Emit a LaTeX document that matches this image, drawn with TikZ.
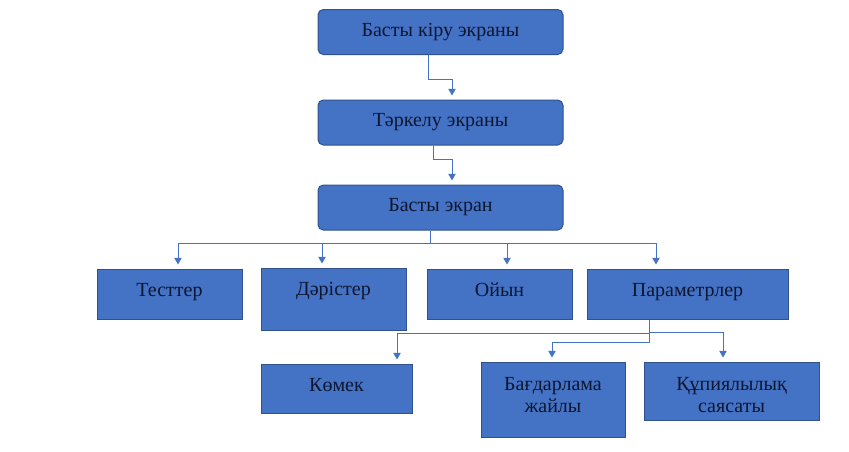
\documentclass[tikz,border=0pt]{standalone}
\usepackage{fontspec}
\setmainfont{Liberation Serif}
\usetikzlibrary{arrows.meta}
\definecolor{boxfill}{HTML}{4472C4}
\definecolor{boxline}{HTML}{2F528F}
\definecolor{linkblue}{HTML}{4472C4}
\definecolor{ink}{HTML}{0E1630}
\tikzset{
  screen/.style={draw=boxline, line width=0.75pt, fill=boxfill, text=ink,
    font=\fontsize{15}{18}\selectfont, rounded corners=4pt,
    minimum width=183.75pt, minimum height=33.75pt, inner sep=0pt},
  item/.style={draw=boxline, line width=0.75pt, fill=boxfill, text=ink,
    font=\fontsize{15}{16.5}\selectfont, inner sep=0pt, align=center},
  oneline/.style={item, text height=10pt, text depth=6pt},
  link/.style={draw=linkblue, line width=0.75pt,
    -{Triangle[width=5.5pt,length=5pt]}, shorten >=3pt},
}
\begin{document}
\begin{tikzpicture}[x=0.75pt, y=-0.75pt]
  \useasboundingbox (0,0) rectangle (849,451);

  \node[screen] (login) at (440.5,32) {Басты кіру экраны};
  \node[screen] (signup) at (440.5,122.5) {Тәркелу экраны};
  \node[screen] (home) at (440.5,207.5) {Басты экран};

  \node[oneline, minimum width=108.75pt, minimum height=37.5pt] (tests) at (169.5,294) {Тесттер};
  \node[oneline, minimum width=108.75pt, minimum height=46.5pt, text depth=15pt] (lectures) at (333.5,299) {Дәрістер};
  \node[oneline, minimum width=108.75pt, minimum height=37.5pt] (game) at (499.5,294) {Ойын};
  \node[oneline, minimum width=150.75pt, minimum height=37.5pt] (settings) at (687.5,294) {Параметрлер};

  \node[oneline, minimum width=113.25pt, minimum height=36.75pt] (help) at (336.5,388.5) {Көмек};
  \node[item, minimum width=108pt, minimum height=56.25pt, text height=26.5pt, text depth=7.75pt] (about) at (553,399.5) {Бағдарлама\\жайлы};
  \node[item, minimum width=131.25pt, minimum height=43.5pt, text height=31.5pt, text depth=0pt] (privacy) at (731.5,391) {Құпиялылық\\саясаты};

  \draw[link] ([xshift=-9.375pt]login.south) -- ++(0,24) -| ([xshift=8.625pt]signup.north);
  \draw[link] ([xshift=-5.625pt]signup.south) -- ++(0,14) -| ([xshift=8.625pt]home.north);

  \draw[link] ([xshift=-7.875pt]home.south) -- ++(0,13) -| ([xshift=6.375pt]tests.north);
  \draw[link] ([xshift=-7.875pt]home.south) -- ++(0,13) -| ([xshift=-8.625pt]lectures.north);
  \draw[link] ([xshift=-7.875pt]home.south) -- ++(0,13) -| ([xshift=5.625pt]game.north);
  \draw[link] ([xshift=-7.875pt]home.south) -- ++(0,13) -| ([xshift=-23.625pt]settings.north);

  \draw[link] ([xshift=-28.875pt]settings.south) -- ++(0,14) -| ([xshift=45.375pt]help.north);
  \draw[link] ([xshift=-28.875pt]settings.south) -- ++(0,23) -| ([xshift=-0.75pt]about.north);
  \draw[link] ([xshift=-28.875pt]settings.south) -- ++(0,13) -| ([xshift=-6.375pt]privacy.north);
\end{tikzpicture}
\end{document}
